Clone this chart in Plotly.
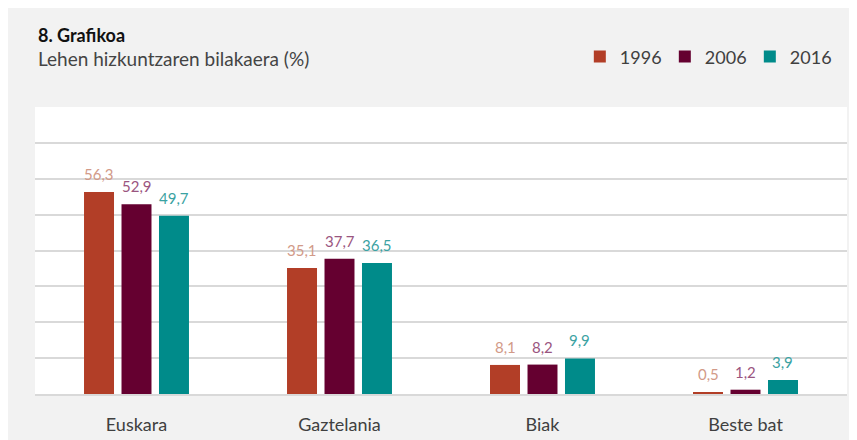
import plotly.graph_objects as go

categories = ["Euskara", "Gaztelania", "Biak", "Beste bat"]
years = ["1996", "2006", "2016"]
v1996 = [56.3, 35.1, 8.1, 0.5]
v2006 = [52.9, 37.7, 8.2, 1.2]
v2016 = [49.7, 36.5, 9.9, 3.9]
series = [v1996, v2006, v2016]
bar_colors = ["#B23E27", "#650030", "#008B8A"]
label_colors = ["#D29A88", "#9A5580", "#3AA2A2"]

FONT = "Lato, 'Open Sans', sans-serif"
bargap = 0.446
bargroupgap = 0.2

fig = go.Figure()
for name, vals, col in zip(years, series, bar_colors):
    fig.add_trace(go.Bar(name=name, x=categories, y=vals, marker=dict(color=col, line=dict(width=0))))

slot = (1 - bargap) / len(years)
annotations = []
for j, (vals, lc) in enumerate(zip(series, label_colors)):
    for i, v in enumerate(vals):
        annotations.append(dict(
            x=i + (j - (len(years) - 1) / 2) * slot, y=v, xref="x", yref="y",
            text=f"{v:.1f}".replace(".", ","), showarrow=False,
            yanchor="bottom", yshift=7,
            font=dict(family=FONT, size=15, color=lc)))

annotations.append(dict(x=0, y=1, xref="paper", yref="paper", xanchor="left", yanchor="bottom",
                        text="<b>8. Grafikoa</b>", showarrow=False, xshift=1, yshift=59,
                        font=dict(family=FONT, size=18, color="#111111")))
annotations.append(dict(x=0, y=1, xref="paper", yref="paper", xanchor="left", yanchor="bottom",
                        text="Lehen hizkuntzaren bilakaera (%)", showarrow=False, xshift=1, yshift=35,
                        font=dict(family=FONT, size=19, color="#444444")))

fig.update_layout(
    width=849, height=432,
    margin=dict(l=27, r=10, t=99, b=46, autoexpand=False),
    paper_bgcolor="#F2F2F2",
    plot_bgcolor="#FFFFFF",
    barmode="group", bargap=bargap, bargroupgap=bargroupgap,
    showlegend=True,
    legend=dict(orientation="h", x=0.985, xanchor="right", y=1.175, yanchor="middle",
                font=dict(family=FONT, size=18, color="#404040"),
                bgcolor="rgba(0,0,0,0)", itemwidth=30, entrywidth=40, entrywidthmode="pixels"),
    xaxis=dict(showgrid=False, showline=True, linecolor="#D9D9D9", linewidth=1.5,
               ticks="outside", ticklen=14, tickcolor="rgba(0,0,0,0)",
               tickfont=dict(family=FONT, size=18, color="#404040"), fixedrange=True),
    yaxis=dict(range=[0, 80], dtick=10, showgrid=True, gridcolor="#D9D9D9", gridwidth=1.5,
               showticklabels=False, zeroline=False, fixedrange=True),
    annotations=annotations,
)

fig.write_html("out.html")
